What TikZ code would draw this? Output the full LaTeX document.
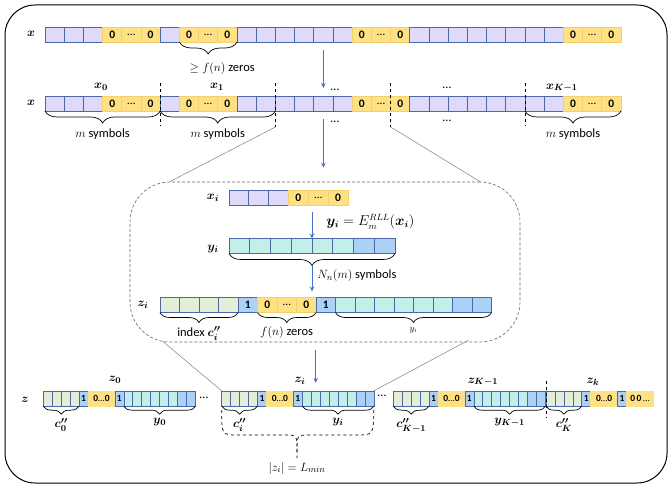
\documentclass[tikz,border=0pt]{standalone}
\usepackage{amsmath,amssymb}
\usepackage{fontspec}
\setmainfont{Carlito}
\usetikzlibrary{positioning,decorations.pathreplacing,arrows.meta}

\definecolor{cellline}{HTML}{4A69A6}
\definecolor{cpurple}{HTML}{E0DAFA}
\definecolor{cyellow}{HTML}{FFE185}
\definecolor{cyellowline}{HTML}{F3D06C}
\definecolor{ccyan}{HTML}{C2EFE8}
\definecolor{cblue}{HTML}{ABD1F7}
\definecolor{cgreen}{HTML}{E3EED9}
\definecolor{arrowblue}{HTML}{4472C4}

\newcommand{\zro}{$\mathbf{0}$}
\newcommand{\one}{$\mathbf{1}$}
\newcommand{\dts}{\dots}

% one row of cells: name, left x, centre y, cell width, list of style/text
\newcommand{\cellrow}[5]{%
  \foreach \sty/\txt [count=\i] in {#5}
    \node[\sty, minimum width=#4] (#1\i) at ({#2+(\i-0.5)*#4},#3) {\txt};}

% one block of the output row z: name, left x, tail list
\newcommand{\zblock}[3]{%
  \foreach \sty/\txt [count=\i] in {grn/{},grn/{},grn/{},grn/{},blu/\one}
    \node[\sty, zc] (#1\i) at ({#2+(\i-0.5)*8.95},398.5) {\txt};
  \node[yel, zc, minimum width=26.85, draw=cyellow] (#1z) at ({#2+6.5*8.95},398.5) {\zro\dts\zro};
  \foreach \sty/\txt [count=\i] in {#3}
    \node[\sty, zc] (#1y\i) at ({#2+(\i+7.5)*8.95},398.5) {\txt};}

\begin{document}
\begin{tikzpicture}[x=1pt, y=-1pt,
    cell/.style={minimum height=15, inner sep=0, outer sep=0, line width=0.7,
      draw=cellline, font=\fontsize{11.5}{11.5}\selectfont},
    pur/.style={cell, fill=cpurple},
    yel/.style={cell, fill=cyellow, draw=cyellowline},
    cya/.style={cell, fill=ccyan},
    blu/.style={cell, fill=cblue},
    grn/.style={cell, fill=cgreen},
    zc/.style={minimum width=8.95, minimum height=15.3, font=\fontsize{9.5}{10}\selectfont},
    lbl/.style={font=\fontsize{12.5}{14}\selectfont, inner sep=1},
    brc/.style={decorate, decoration={brace, mirror, amplitude=#1}, line width=0.7},
    arr/.style={-{Stealth[length=5,width=4.5]}, draw=arrowblue, line width=0.9},
    cut/.style={dashed, line width=0.7},
    zl/.style={draw=gray, line width=0.5},
    zbx/.style={draw=gray!80!black, densely dashed, rounded corners=40, line width=0.6}]
  \useasboundingbox (0,0) rectangle (668,487);
  \draw[rounded corners=30, line width=1] (5,5) rectangle (667,483);

  % input sequence x
  \node[lbl] (lx1) at (31,34) {$\boldsymbol{x}$};
  \cellrow{a}{45}{34.5}{19.2}{pur/{},pur/{},pur/{},yel/\zro,yel/\dts,yel/\zro,pur/{},yel/\zro,yel/\dts,yel/\zro,pur/{},pur/{},pur/{},pur/{},pur/{},pur/{},yel/\zro,yel/\dts,yel/\zro,pur/{},pur/{},pur/{},pur/{},pur/{},pur/{},pur/{},pur/{},yel/\zro,yel/\dts,yel/\zro}
  \draw[brc=12] (a8.south west) -- (a10.south east)
    node[midway, below=19pt, xshift=14, lbl] (lzeros) {$\geq f(n)$ zeros};

  % x cut into blocks
  \node[lbl] (lx2) at (31,103) {$\boldsymbol{x}$};
  \cellrow{b}{45}{103.5}{19.2}{pur/{},pur/{},pur/{},yel/\zro,yel/\dts,yel/\zro,pur/{},yel/\zro,yel/\dts,yel/\zro,pur/{},pur/{},pur/{},pur/{},pur/{},pur/{},yel/\zro,yel/\dts,yel/\zro,pur/{},pur/{},pur/{},pur/{},pur/{},pur/{},pur/{},pur/{},yel/\zro,yel/\dts,yel/\zro}
  \draw[arr, shorten <=8, shorten >=8] (a15.south) -- (b15.north);
  \draw[cut] ([yshift=13]b7.north west) -- ([yshift=-15]b7.south west);
  \draw[cut] ([yshift=13]b13.north west) -- ([yshift=-16]b13.south west) coordinate (cutL);
  \draw[cut] ([yshift=13]b19.north west) -- ([yshift=-16]b19.south west) coordinate (cutR);
  \draw[cut] ([yshift=13]b26.north west) -- ([yshift=-15]b26.south west);
  \node[lbl] (lx0) at (101,87) {$\boldsymbol{x_0}$};
  \node[lbl] (lx1b) at (217,87) {$\boldsymbol{x_1}$};
  \node[lbl] (lxk) at (562,88) {$\boldsymbol{x_{K-1}}$};
  \node[lbl] (d1) at (335,90) {\dots};
  \node[lbl] (d2) at (447,88) {\dots};
  \node[lbl] (d3) at (335,122) {\dots};
  \node[lbl] (d4) at (447,121) {\dots};
  \draw[brc=12] (b1.south west) -- (b6.south east)
    node[midway, below=16pt, lbl] (lm1) {$m$ symbols};
  \draw[brc=12] (b7.south west) -- (b12.south east)
    node[midway, below=16pt, lbl] (lm2) {$m$ symbols};
  \draw[brc=12] (b26.south west) -- (b30.south east)
    node[midway, below=16pt, lbl] (lm3) {$m$ symbols};

  % zoom on one block
  \node[zbx, minimum width=390, minimum height=160] (zbox) at (325,262) {};
  \draw[arr, shorten <=8, shorten >=14] (b15.south) -- (b15.south |- zbox.north);
  \draw[zl] (cutL) -- ([xshift=40]zbox.north west);
  \draw[zl] (cutR) -- ([xshift=-40]zbox.north east);

  \node[lbl] (lxi) at (213,198) {$\boldsymbol{x_i}$};
  \cellrow{xi}{229}{197.5}{19.83}{pur/{},pur/{},pur/{},yel/\zro,yel/\dts,yel/\zro}
  \node[lbl] (lyi) at (213,249) {$\boldsymbol{y_i}$};
  \cellrow{yi}{229}{246}{20.75}{cya/{},cya/{},cya/{},cya/{},cya/{},cya/{},blu/{},blu/{}}
  \draw[arr, shorten <=7] (xi1.south -| yi4.north east) -- (yi4.north east)
    node[midway, right=13pt, font=\fontsize{13.5}{15}\selectfont, inner sep=1] (lenc) {$\boldsymbol{y_i} = E_m^{RLL}(\boldsymbol{x_i})$};
  \draw[brc=12] (yi1.south west) -- (yi8.south east);

  \node[lbl] (lzi) at (143,305) {$\boldsymbol{z_i}$};
  \cellrow{zi}{160}{305}{19.5}{grn/{},grn/{},grn/{},grn/{},blu/\one,yel/\zro,yel/\dts,yel/\zro,blu/\one,cya/{},cya/{},cya/{},cya/{},cya/{},cya/{},blu/{},blu/{}}
  \draw[arr, shorten <=12, shorten >=6] (yi4.south east) -- (yi4.south east |- zi1.north)
    node[midway, right=4pt, lbl] (lnm) {$N_n(m)$ symbols};
  \draw[brc=10] (zi1.south west) -- (zi4.south east)
    node[midway, below=13pt, lbl] (lidx) {index $\boldsymbol{c''_i}$};
  \draw[brc=10] (zi6.south west) -- (zi8.south east)
    node[midway, below=13pt, lbl] (lfz) {$f(n)$ zeros};
  \draw[brc=10] (zi10.south west) -- (zi17.south east)
    node[midway, below=14pt, font=\fontsize{9}{10}\selectfont, inner sep=1] (lyis) {$y_i$};

  % output sequence z
  \node[lbl] (lz) at (25,400) {$\boldsymbol{z}$};
  \zblock{o}{43.3}{blu/\one,cya/{},cya/{},cya/{},cya/{},cya/{},cya/{},blu/{},blu/{}}
  \node[lbl] (d5) at (204,398) {\dots};
  \zblock{i}{221.7}{blu/\one,cya/{},cya/{},cya/{},cya/{},cya/{},cya/{},blu/{},blu/{}}
  \node[lbl] (d6) at (382,396) {\dots};
  \zblock{m}{393.3}{blu/\one,cya/{},cya/{},cya/{},cya/{},cya/{},cya/{},blu/{},blu/{}}
  \zblock{k}{546}{blu/\one}
  \node[yel, zc, minimum width=26.85, draw=cyellow] (ktail) at ({546+10.5*8.95},398.5) {\zro\,\zro\,\dts};
  \draw[cut] ([yshift=10]k1.north west) -- ([yshift=-12]k1.south west);

  \node[lbl] (lz0) at (115,380) {$\boldsymbol{z_0}$};
  \node[lbl] (lzi2) at (300,381) {$\boldsymbol{z_i}$};
  \node[lbl] (lzk1) at (483,382) {$\boldsymbol{z_{K-1}}$};
  \node[lbl] (lzk) at (593,382) {$\boldsymbol{z_k}$};

  \draw[arr, shorten <=8, shorten >=8] (zbox.south -| iy3) -- (iy3.north);
  \draw[zl] ([xshift=33,yshift=1]zbox.south west) -- (i1.north west);
  \draw[zl] ([xshift=-52,yshift=2]zbox.south east) -- (iy9.north east);

  \draw[brc=8] (o1.south west) -- (o4.south east)
    node[midway, below=11pt, lbl] (lc0) {$\boldsymbol{c''_0}$};
  \draw[brc=8] (oy2.south west) -- (oy9.south east)
    node[midway, below=11pt, lbl] (ly0) {$\boldsymbol{y_0}$};
  \draw[brc=8] (i1.south west) -- (i4.south east)
    node[midway, below=11pt, lbl] (lci) {$\boldsymbol{c''_i}$};
  \draw[brc=8] (iy2.south west) -- (iy9.south east)
    node[midway, below=11pt, lbl] (lyi2) {$\boldsymbol{y_i}$};
  \draw[brc=8] (m1.south west) -- (m4.south east)
    node[midway, below=11pt, lbl] (lck1) {$\boldsymbol{c''_{K-1}}$};
  \draw[brc=8] (my2.south west) -- (my9.south east)
    node[midway, below=11pt, lbl] (lyk1) {$\boldsymbol{y_{K-1}}$};
  \draw[brc=8] (k1.south west) -- (k4.south east)
    node[midway, below=11pt, lbl] (lck) {$\boldsymbol{c''_K}$};

  % length of one block
  \draw[cut] ([yshift=-4]i1.south west) .. controls (221.7,435) .. (238,435) -- (285,435)
    .. controls (297,435) .. (297,452) -- (297,458);
  \draw[cut] ([yshift=-4]iy9.south east) .. controls (373.3,435) .. (357,435) -- (309,435)
    .. controls (297,435) .. (297,452);
  \node[lbl] (llen) at (297,468) {$|z_i| = L_{min}$};
\end{tikzpicture}
\end{document}
